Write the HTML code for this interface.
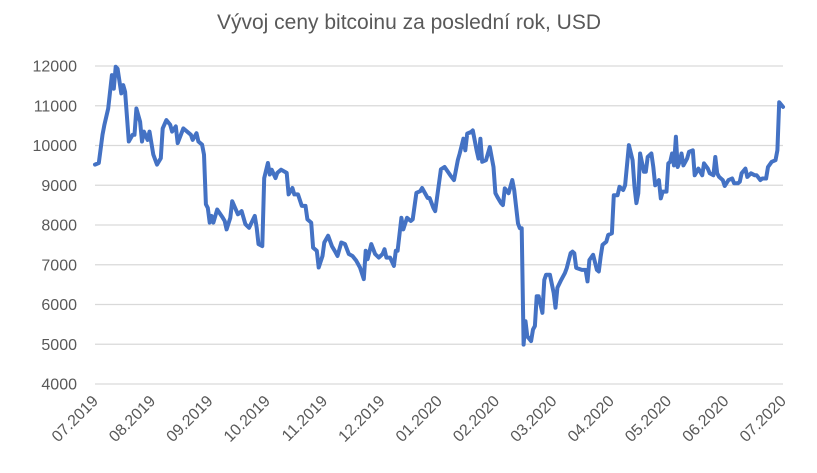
<!DOCTYPE html>
<html><head><meta charset="utf-8"><style>
body{margin:0;background:#fff}
svg{display:block;font-family:"Liberation Sans",sans-serif}
</style></head><body>
<svg id="chart" width="817" height="473" viewBox="0 0 817 473">
<text x="409" y="29" text-anchor="middle" font-size="21" fill="#595959">Vývoj ceny bitcoinu za poslední rok, USD</text>
<g id="grid"></g><g id="ylabels"></g><g id="xlabels"></g><g id="series"></g>
</svg>
<script>
const yTicks=[4000,5000,6000,7000,8000,9000,10000,11000,12000];
const monthLabels=["07.2019","08.2019","09.2019","10.2019","11.2019","12.2019","01.2020","02.2020","03.2020","04.2020","05.2020","06.2020","07.2020"];
const days=[0,2,4,5,7,9,10,11,12,14,15,16,18,20,21,22,24,25,26,28,29,31,33,35,36,38,40,41,43,44,47,51,52,54,55,57,58,59,60,61,62,63,65,68,69,70,72,73,76,78,80,82,85,86,87,89,90,92,93,94,96,97,99,102,103,105,106,108,110,112,113,115,116,118,119,121,122,124,126,128,129,131,133,135,137,139,141,143,144,145,147,149,151,153,154,155,157,159,160,161,163,164,166,168,169,171,173,174,177,178,180,181,184,186,189,191,193,194,196,197,198,200,201,203,204,205,206,208,210,212,213,214,216,217,218,220,222,223,225,226,227,228,229,230,232,233,234,235,236,238,239,240,242,244,245,246,248,250,251,253,254,255,256,259,261,262,263,265,267,268,269,270,272,273,275,276,278,279,281,282,284,286,287,288,289,290,292,293,294,296,297,298,300,301,302,304,305,306,307,308,309,310,311,312,313,315,316,318,319,321,323,324,326,327,329,330,331,332,334,335,337,339,340,342,343,344,346,347,349,351,352,354,355,357,358,360,362,363,364,366];
const prices=[9520,9560,10270,10520,10930,11770,11430,11980,11930,11310,11520,11350,10100,10270,10270,10930,10600,10100,10350,10140,10350,9770,9520,9680,10430,10640,10520,10350,10480,10060,10430,10270,10140,10310,10100,10020,9770,8520,8430,8060,8230,8060,8390,8180,8100,7890,8180,8600,8270,8350,8020,7930,8230,7930,7520,7470,9180,9560,9270,9390,9180,9310,9390,9310,8770,8930,8770,8770,8480,8480,8140,8060,7430,7350,6930,7220,7560,7730,7470,7310,7220,7560,7520,7270,7220,7100,6930,6640,7350,7140,7520,7270,7180,7270,7390,7180,7180,6970,7350,7350,8180,7890,8180,8100,8140,8810,8850,8930,8680,8680,8430,8350,9400,9460,9250,9130,9630,9800,10170,9880,10300,10340,10380,9880,9670,10170,9590,9630,9960,9460,8800,8710,8550,8500,8920,8800,9130,8880,8040,7920,7920,4990,5580,5200,5080,5370,5460,6210,6210,5790,6620,6750,6750,6290,5920,6420,6620,6790,6920,7290,7330,7290,6920,6870,6870,6580,7120,7250,6870,6830,7210,7500,7580,7750,7790,8750,8750,8960,8880,9000,10010,9630,8960,8550,8800,9800,9340,9340,9710,9800,9460,9000,9130,8670,8840,8840,9550,9590,9800,9500,10220,9460,9590,9800,9500,9670,9840,9880,9250,9420,9250,9550,9420,9300,9250,9710,9300,9210,9130,8980,9130,9170,9050,9050,9090,9300,9420,9210,9300,9250,9250,9130,9170,9170,9460,9590,9630,9880,11090,10970];
const NS="http://www.w3.org/2000/svg";
const X0=95,X1=783,Y0=384,Y1=66,DMAX=366,VMIN=4000,VMAX=12000;
function xs(d){return X0+(d/DMAX)*(X1-X0);}
function ys(v){return Y0-(v-VMIN)/(VMAX-VMIN)*(Y0-Y1);}
const grid=document.getElementById('grid'),yl=document.getElementById('ylabels'),xl=document.getElementById('xlabels'),se=document.getElementById('series');
yTicks.forEach(v=>{
  const l=document.createElementNS(NS,'line');
  
  
  l.setAttribute('x1',X0);l.setAttribute('x2',X1);l.setAttribute('y1',ys(v));l.setAttribute('y2',ys(v));
  l.setAttribute('stroke','#d9d9d9');l.setAttribute('stroke-width','1.3');
  grid.appendChild(l);
  const t=document.createElementNS(NS,'text');
  
  
  t.setAttribute('x',77);t.setAttribute('y',ys(v)+5.5);t.setAttribute('text-anchor','end');
  t.setAttribute('font-size','16');t.setAttribute('fill','#595959');
  t.textContent=v;yl.appendChild(t);
});
monthLabels.forEach((m,i)=>{
  const x=X0+i*(X1-X0)/(monthLabels.length-1)+4,y=402;
  const t=document.createElementNS(NS,'text');
  
  
  t.setAttribute('x',x);t.setAttribute('y',y);t.setAttribute('text-anchor','end');
  t.setAttribute('font-size','16');t.setAttribute('fill','#595959');
  t.setAttribute('transform','rotate(-45 '+x+' '+y+')');
  t.textContent=m;xl.appendChild(t);
});
const p=document.createElementNS(NS,'polyline');


p.setAttribute('points',days.map((d,i)=>xs(d).toFixed(1)+','+ys(prices[i]).toFixed(1)).join(' '));
p.setAttribute('fill','none');p.setAttribute('stroke','#4472C4');p.setAttribute('stroke-width','4');
p.setAttribute('stroke-linejoin','round');p.setAttribute('stroke-linecap','round');
se.appendChild(p);
</script>
</body></html>
